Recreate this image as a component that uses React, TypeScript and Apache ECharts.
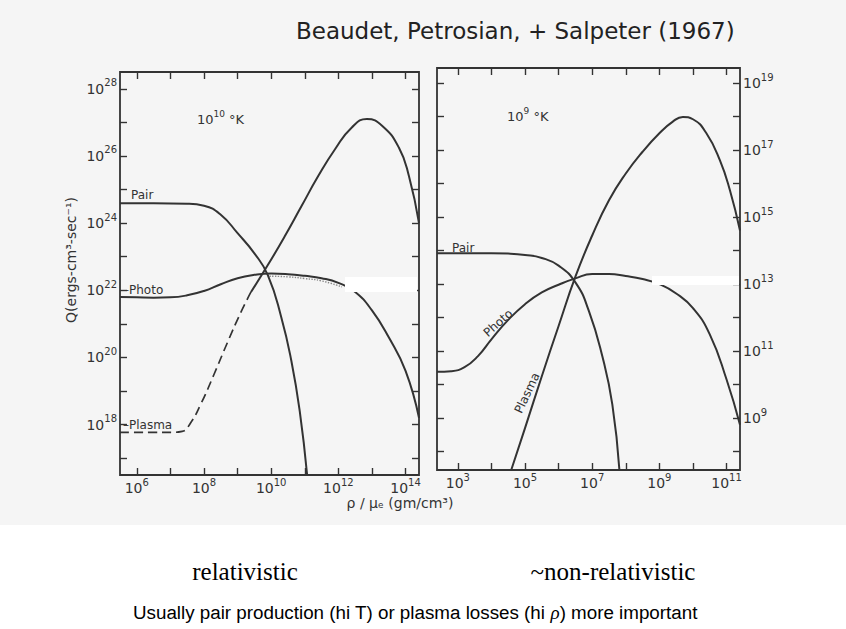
import React, { useEffect, useRef } from "react";
import * as echarts from "echarts";

// ---- Data: log10 values ----
// Left panel: T = 10^10 K   (x = log10 rho/mu_e, y = log10 Q)
const pairHotX = [5.5, 6.5, 7.5, 8.0, 8.5, 9.0, 9.5, 9.9, 10.3, 10.6, 10.85, 11.07];
const pairHotY = [24.59, 24.59, 24.58, 24.52, 24.25, 23.7, 23.1, 22.45, 21.2, 19.9, 18.4, 16.5];

const photoHotX = [5.5, 6.0, 6.5, 7.0, 7.5, 8.0, 8.5, 9.0, 9.5, 10.0, 10.5, 11.0, 11.5, 12.0, 12.5, 13.0, 13.5, 14.0, 14.4];
const photoHotY = [21.8, 21.79, 21.78, 21.79, 21.85, 21.98, 22.18, 22.36, 22.46, 22.5, 22.48, 22.43, 22.36, 22.22, 21.95, 21.4, 20.6, 19.6, 18.2];

const photoHotDotX = [9.95, 10.5, 11.0, 11.5, 12.1];
const photoHotDotY = [22.42, 22.4, 22.35, 22.28, 22.1];

const plasmaHotDashX = [5.5, 6.0, 6.5, 7.0, 7.35, 7.6, 7.9, 8.3, 8.7, 9.1, 9.4];
const plasmaHotDashY = [17.77, 17.77, 17.77, 17.77, 17.8, 18.05, 18.6, 19.5, 20.45, 21.35, 21.95];

const plasmaHotX = [9.4, 9.9, 10.4, 10.9, 11.4, 11.9, 12.4, 12.85, 13.3, 13.8, 14.1, 14.4];
const plasmaHotY = [21.95, 22.75, 23.6, 24.5, 25.4, 26.2, 26.85, 27.1, 26.9, 26.25, 25.4, 24.0];

// Right panel: T = 10^9 K
const pairCoolX = [2.38, 3.0, 3.5, 4.0, 4.5, 5.0, 5.5, 6.0, 6.5, 6.9, 7.3, 7.6, 7.81];
const pairCoolY = [13.92, 13.92, 13.92, 13.92, 13.91, 13.87, 13.78, 13.55, 13.05, 12.2, 10.85, 9.4, 7.45];

const photoCoolX = [2.38, 2.8, 3.2, 3.6, 4.0, 4.5, 5.0, 5.5, 6.0, 6.5, 7.0, 7.5, 8.0, 8.5, 9.0, 9.5, 10.0, 10.5, 11.0, 11.4];
const photoCoolY = [10.38, 10.4, 10.52, 10.85, 11.35, 11.93, 12.4, 12.75, 12.98, 13.17, 13.3, 13.3, 13.24, 13.15, 13.0, 12.72, 12.28, 11.5, 10.15, 8.8];

const plasmaCoolX = [4.59, 5.0, 5.5, 6.0, 6.5, 7.0, 7.5, 8.0, 8.5, 9.0, 9.4, 9.7, 10.0, 10.4, 10.8, 11.1, 11.4];
const plasmaCoolY = [7.45, 8.7, 10.25, 11.75, 13.22, 14.45, 15.5, 16.3, 16.95, 17.5, 17.85, 17.99, 17.92, 17.5, 16.7, 15.8, 14.6];

// Tick positions (exponents)
const leftXTicks = [6, 7, 8, 9, 10, 11, 12, 13, 14];
const leftXLabels = [6, 8, 10, 12, 14];
const leftYTicks = [17, 18, 19, 20, 21, 22, 23, 24, 25, 26, 27, 28];
const leftYLabels = [18, 20, 22, 24, 26, 28];
const rightXTicks = [3, 4, 5, 6, 7, 8, 9, 10, 11];
const rightXLabels = [3, 5, 7, 9, 11];
const rightYTicks = [8, 9, 10, 11, 12, 13, 14, 15, 16, 17, 18, 19];
const rightYLabels = [9, 11, 13, 15, 17, 19];

const INK = "#333333";
const FONT = "DejaVu Sans";

const POW_RICH = {
  b: { fontFamily: FONT, fontSize: 14, lineHeight: 22, color: "#333" },
  s: { fontFamily: FONT, fontSize: 10, lineHeight: 11, verticalAlign: "top", color: "#333" },
};
const zip = (xs: number[], ys: number[]) => xs.map((x, i) => [x, ys[i]]);

function axis(
  gridIndex: number,
  position: string,
  min: number,
  max: number,
  ticks: number[],
  labels: number[] | null,
  margin = 6
) {
  return {
    type: "value",
    gridIndex,
    position,
    min,
    max,
    axisLine: { show: false },
    splitLine: { show: false },
    axisTick: {
      show: true,
      inside: true,
      length: 7,
      customValues: ticks,
      lineStyle: { color: INK, width: 1.4 },
    },
    axisLabel: labels
      ? {
          show: true,
          customValues: labels,
          formatter: (v: number) => "{b|10}{s|" + Math.round(v) + "}",
          rich: POW_RICH,
          margin,
        }
      : { show: false },
  };
}

function line(name: string, xi: number, yi: number, xs: number[], ys: number[], extra: any = {}) {
  return {
    name,
    type: "line",
    xAxisIndex: xi,
    yAxisIndex: yi,
    data: zip(xs, ys),
    showSymbol: false,
    symbol: "none",
    smooth: 0.5,
    lineStyle: { color: INK, width: 2, ...(extra.lineStyle || {}) },
    z: extra.z || 3,
  };
}

export default function App() {
  const ref = useRef<HTMLDivElement>(null);
  useEffect(() => {
    if (!ref.current) return;
    const chart = echarts.init(ref.current, undefined, { renderer: "svg" });
    const txt = (text: string, x: number, y: number, size = 12, extra: any = {}) => ({
      type: "text",
      x,
      y,
      rotation: extra.rotation || 0,
      z: 10,
      style: {
        text,
        fontFamily: extra.fontFamily || FONT,
        fontSize: size,
        fill: extra.fill || "#333",
        align: extra.align || "left",
        verticalAlign: "middle",
        rich: extra.rich,
      },
    });
    const TEMP_RICH = {
      b: { fontFamily: FONT, fontSize: 13, lineHeight: 20, fill: "#333" },
      s: { fontFamily: FONT, fontSize: 9, lineHeight: 10, verticalAlign: "top", fill: "#333" },
    };
    chart.setOption({
      animation: false,
      backgroundColor: "#ffffff",
      grid: [
        { left: 120, top: 72, width: 299, height: 403, show: true, borderColor: INK, borderWidth: 1.8, backgroundColor: "transparent" },
        { left: 437, top: 68, width: 303, height: 402, show: true, borderColor: INK, borderWidth: 1.8, backgroundColor: "transparent" },
      ],
      xAxis: [
        axis(0, "bottom", 5.5, 14.4, leftXTicks, leftXLabels, 2),
        axis(0, "top", 5.5, 14.4, leftXTicks, null),
        axis(1, "bottom", 2.38, 11.4, rightXTicks, rightXLabels, 2),
        axis(1, "top", 2.38, 11.4, rightXTicks, null),
      ],
      yAxis: [
        axis(0, "left", 16.5, 28.5, leftYTicks, leftYLabels, 3),
        axis(0, "right", 16.5, 28.5, leftYTicks, null),
        axis(1, "left", 7.45, 19.45, rightYTicks, null),
        axis(1, "right", 7.45, 19.45, rightYTicks, rightYLabels, 3),
      ],
      series: [
        line("Pair 10^10K", 0, 0, pairHotX, pairHotY),
        line("Photo 10^10K", 0, 0, photoHotX, photoHotY),
        line("Photo dotted", 0, 0, photoHotDotX, photoHotDotY, { lineStyle: { type: "dotted", width: 1.4, color: "#888" }, z: 2 }),
        line("Plasma 10^10K dashed", 0, 0, plasmaHotDashX, plasmaHotDashY, { lineStyle: { type: [9, 5], width: 1.7 } }),
        line("Plasma 10^10K", 0, 0, plasmaHotX, plasmaHotY),
        line("Pair 10^9K", 2, 3, pairCoolX, pairCoolY),
        line("Photo 10^9K", 2, 3, photoCoolX, photoCoolY),
        line("Plasma 10^9K", 2, 3, plasmaCoolX, plasmaCoolY),
      ],
      graphic: [
        { type: "rect", shape: { x: 0, y: 0, width: 846, height: 525 }, style: { fill: "#f5f5f5" }, z: -10, silent: true },
        // white patches present in the scan
        { type: "rect", shape: { x: 345, y: 277, width: 72, height: 15 }, style: { fill: "#ffffff" }, z: 20 },
        { type: "rect", shape: { x: 652, y: 276, width: 87, height: 9 }, style: { fill: "#ffffff" }, z: 20 },
        txt("Beaudet, Petrosian, + Salpeter (1967)", 296, 31, 23, { fill: "#222" }),
        txt("{b|10}{s|10}{b| °K}", 197, 119, 13, { rich: TEMP_RICH }),
        txt("{b|10}{s|9}{b| °K}", 507, 116, 13, { rich: TEMP_RICH }),
        txt("Pair", 131, 195, 12),
        txt("–Photo", 123, 290, 12),
        txt("–Plasma", 123, 425, 12),
        txt("Pair", 452, 248, 12),
        txt("Photo", 498, 323, 12, { align: "center", rotation: 0.73 }),
        txt("Plasma", 527, 393, 12, { align: "center", rotation: 1.13 }),
        txt("Q(ergs-cm³-sec⁻¹)", 71, 260, 14, { align: "center", rotation: Math.PI / 2 }),
        txt("ρ / μₑ (gm/cm³)", 400, 503, 14, { align: "center" }),
        txt("relativistic", 245, 571, 25, { align: "center", fontFamily: "Liberation Serif", fill: "#000" }),
        txt("~non-relativistic", 613, 571, 25, { align: "center", fontFamily: "Liberation Serif", fill: "#000" }),
        txt("Usually pair production (hi T) or plasma losses (hi {i|ρ}) more important", 133, 612, 18.8, {
          fontFamily: "Liberation Sans",
          fill: "#000",
          rich: { i: { fontStyle: "italic", fontFamily: "Liberation Serif", fontSize: 19, fill: "#000" } },
        }),
      ],
    });
    return () => chart.dispose();
  }, []);
  return <div ref={ref} style={{ position: "fixed", left: 0, top: 0, width: 846, height: 629 }} />;
}
